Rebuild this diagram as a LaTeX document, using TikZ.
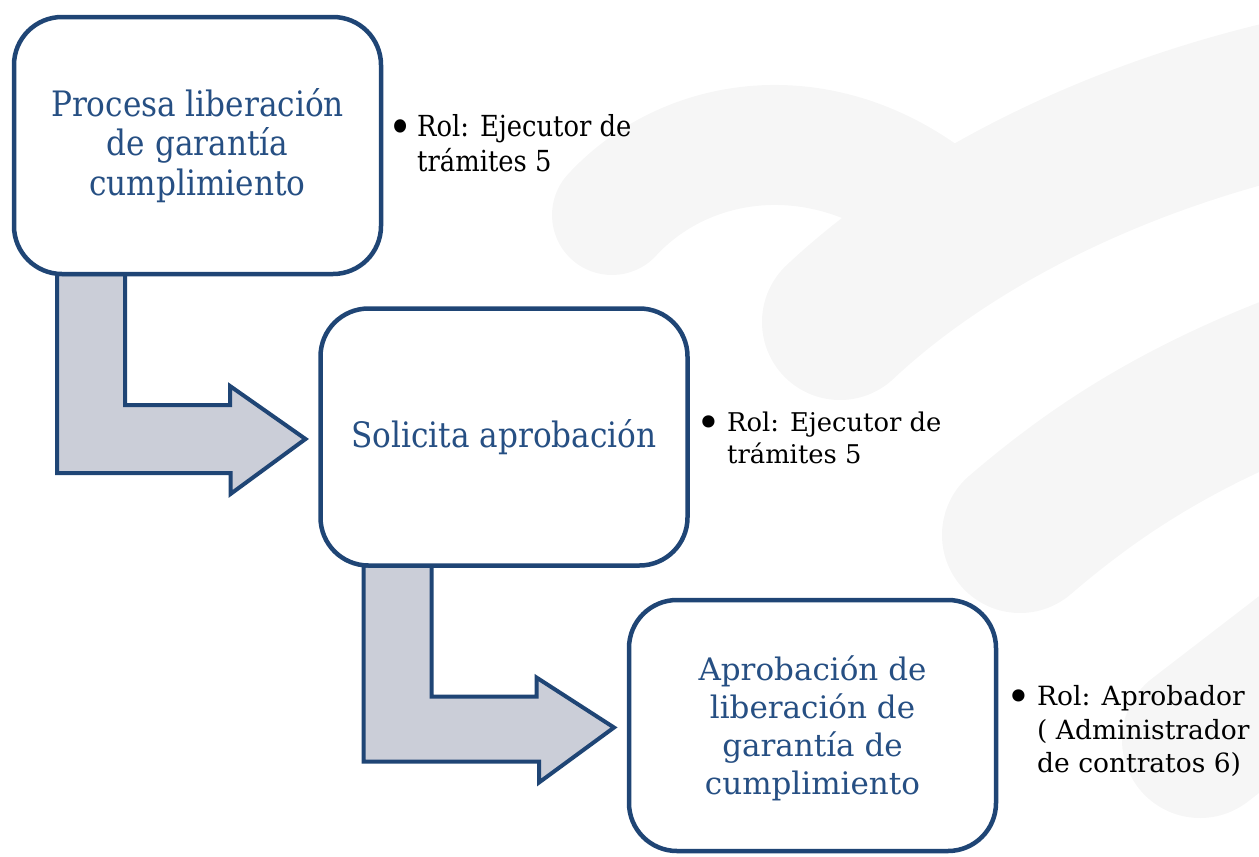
\documentclass[tikz,border=0pt]{standalone}
\usepackage{fontspec}
\setmainfont{DejaVu Serif}
\newfontfamily\narrowserif[FakeStretch=0.89]{DejaVu Serif}
\usetikzlibrary{calc}
\definecolor{boxline}{RGB}{31,69,117}
\definecolor{boxtext}{RGB}{38,79,131}
\definecolor{arrowfill}{RGB}{203,206,216}
\definecolor{wmark}{RGB}{246,246,246}
\tikzset{
    stepbox/.style={rectangle, draw=boxline, line width=4.5pt, fill=white,
    	rounded corners=48pt, minimum width=367pt, minimum height=257pt,
    	outer sep=0pt, align=center, text=boxtext}
}
\tikzset{
    rolenote/.style={anchor=west, align=left, inner sep=0pt, text=black}
}
\tikzset{
    bentarrow/.style={draw=boxline, line width=4pt, fill=arrowfill,
    	line join=miter}
}
\tikzset{
	swoosh/.style={draw=wmark, line cap=round}
}
\pgfdeclarelayer{background}
\pgfsetlayers{background,main}

\begin{document}
\begin{tikzpicture}[x=1pt,y=-1pt]
	\useasboundingbox (0,0) rectangle (1259,857);
	\node[stepbox, font=\narrowserif\fontsize{35pt}{39.5pt}\selectfont] (p1) at (197.5,145.5) {Procesa liberación\\de garantía\\cumplimiento};
	\node[stepbox, font=\narrowserif\fontsize{35pt}{39.5pt}\selectfont] (p2) at (504,437) {Solicita aprobación};
	\node[stepbox, minimum height=251pt, font=\fontsize{31pt}{38pt}\selectfont] (p3) at (812.5,725.5) {\rule{0pt}{30pt}Aprobación de\\liberación de\\garantía de\\cumplimiento};
	
	% roles, the node starts at the centre of the bullet
	\node[rolenote, font=\narrowserif\fontsize{29pt}{35pt}\selectfont] (r1) at (400,143.5) {\makebox[0pt]{\raisebox{-6.5pt}{\fontsize{46pt}{46pt}\selectfont\textbullet}}\hspace{17pt}Rol: Ejecutor de\\\hspace{17pt}trámites 5};
	\node[rolenote, font=\fontsize{25.8pt}{32pt}\selectfont] (r2) at (709,438) {\makebox[0pt]{\raisebox{-6pt}{\fontsize{42pt}{42pt}\selectfont\textbullet}}\hspace{18pt}Rol: Ejecutor de\\\hspace{18pt}trámites 5};
	\node[rolenote, font=\fontsize{26.5pt}{33.5pt}\selectfont] (r3) at (1019,731) {\makebox[0pt]{\raisebox{-6pt}{\fontsize{42pt}{42pt}\selectfont\textbullet}}\hspace{18pt}Rol: Aprobador\\\hspace{18pt}( Administrador\\\hspace{18pt}de contratos 6)};
	
	\begin{pgfonlayer}{background}
	\draw[swoosh, line width=156pt] (840,322) .. controls (940,228) and (1100,140) .. (1300,95);
	\draw[swoosh, line width=156pt] (1020,535) .. controls (1090,475) and (1170,420) .. (1300,370);
	\draw[swoosh, line width=156pt] (1200,740) -- (1330,640);
	\draw[swoosh, line width=120pt] (612,215) .. controls (690,130) and (840,110) .. (960,225);
	
	\draw[bentarrow] ([xshift=43pt]p1.south west) coordinate (s1) -- ++(68,0) -- ++(0,131) -- ++(105,0) -- ++(0,-19) -- ([xshift=-15pt,yshift=-2pt]p2.west) -- ++(-75,55) -- ++(0,-21) -| (s1) -- cycle;
	\draw[bentarrow] ([xshift=43pt]p2.south west) coordinate (s2) -- ++(68,0) -- ++(0,131) -- ++(105,0) -- ++(0,-19) -- ([xshift=-15pt,yshift=-2pt]p3.west) -- ++(-75,55) -- ++(0,-21) -| (s2) -- cycle;
	\end{pgfonlayer}
\end{tikzpicture}
\end{document}
